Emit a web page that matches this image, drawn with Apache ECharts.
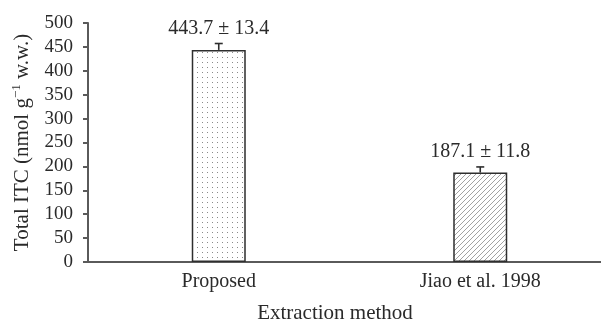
<!DOCTYPE html>
<html>
<head>
<meta charset="utf-8">
<script src="https://cdn.jsdelivr.net/npm/echarts@6/dist/echarts.min.js"></script>
<style>
  html, body { margin: 0; padding: 0; background: #fff; }
  #chart { width: 601px; height: 321px; }
</style>
</head>
<body>
<div id="chart"></div>
<script>
// Total ITC by extraction method (mean ± SD)
const categories = ['Proposed', 'Jiao et al. 1998'];
const means = [443.7, 187.1];
const errors = [13.4, 11.8];
const yMin = 0, yMax = 500, yStep = 50;

const FONT = 'Liberation Serif';
const INK = '#2a2a2a';
const AXIS = '#5a5a5a';

// Fill patterns: fine dot grid and diagonal hatching
function dotPattern() {
  const c = document.createElement('canvas');
  c.width = 5; c.height = 5;
  const g = c.getContext('2d');
  g.fillStyle = '#fff'; g.fillRect(0, 0, 5, 5);
  g.fillStyle = '#8a8a8a'; g.fillRect(2, 2, 1, 1);
  return c;
}
function hatchPattern() {
  const s = 5;
  const c = document.createElement('canvas');
  c.width = s; c.height = s;
  const g = c.getContext('2d');
  g.fillStyle = '#fff'; g.fillRect(0, 0, s, s);
  g.strokeStyle = '#7a7a7a'; g.lineWidth = 0.7;
  g.beginPath();
  g.moveTo(-1, s + 1); g.lineTo(s + 1, -1);
  g.moveTo(-1, 1); g.lineTo(1, -1);
  g.moveTo(s - 1, s + 1); g.lineTo(s + 1, s - 1);
  g.stroke();
  return c;
}
const fills = [dotPattern(), hatchPattern()];

const chart = echarts.init(document.getElementById('chart'), null, { renderer: 'canvas' });

chart.setOption({
  animation: false,
  backgroundColor: '#fff',
  grid: { left: 88, right: -10, top: 23, bottom: 59, outerBoundsMode: 'none', containLabel: false },
  xAxis: {
    type: 'category',
    data: categories,
    axisLine: { lineStyle: { color: AXIS, width: 2 } },
    axisTick: { show: false },
    axisLabel: { color: INK, fontFamily: FONT, fontSize: 20, margin: 10 },
    name: 'Extraction method',
    nameLocation: 'middle',
    nameGap: 41,
    nameTextStyle: { color: INK, fontFamily: FONT, fontSize: 21, padding: [0, 29, 0, 0] }
  },
  yAxis: {
    type: 'value',
    min: yMin, max: yMax, interval: yStep,
    splitLine: { show: false },
    axisLine: { show: true, lineStyle: { color: AXIS, width: 2 } },
    axisTick: { show: true, length: 5, lineStyle: { color: AXIS, width: 2 } },
    axisLabel: { color: INK, fontFamily: FONT, fontSize: 19, margin: 15 },
    name: '{a|Total ITC (nmol g}{sup|\u22121}{a| w.w.)}',
    nameLocation: 'middle',
    nameRotate: 90,
    nameGap: 54,
    nameTextStyle: {
      color: INK, fontFamily: FONT, fontSize: 21,
      rich: {
        a: { color: INK, fontFamily: FONT, fontSize: 21, lineHeight: 24 },
        sup: { color: INK, fontFamily: FONT, fontSize: 13, verticalAlign: 'top', lineHeight: 24, padding: [0, 0, 10, 0] }
      }
    }
  },
  series: [
    {
      type: 'bar',
      barWidth: 54,
      data: means.map((v, i) => ({
        value: v,
        itemStyle: {
          color: { image: fills[i], repeat: 'repeat' },
          borderColor: '#2e2e2e',
          borderWidth: 1.5
        }
      })),
      z: 2
    },
    {
      type: 'custom',
      data: means.map((v, i) => [i, v, errors[i]]),
      encode: { x: 0, y: 1 },
      z: 3,
      renderItem: function (params, api) {
        const i = api.value(0);
        const m = api.value(1);
        const e = api.value(2);
        const base = api.coord([i, m]);
        const top = api.coord([i, m + e]);
        const capHalf = 4;
        const stroke = { stroke: '#2e2e2e', lineWidth: 1.6 };
        return {
          type: 'group',
          children: [
            { type: 'line', shape: { x1: top[0], y1: base[1], x2: top[0], y2: top[1] }, style: stroke },
            { type: 'line', shape: { x1: top[0] - capHalf, y1: top[1], x2: top[0] + capHalf, y2: top[1] }, style: stroke },
            {
              type: 'text',
              x: top[0], y: top[1] - 5,
              style: {
                text: m.toFixed(1) + ' \u00b1 ' + e.toFixed(1),
                fill: INK, font: '20px "' + FONT + '"',
                align: 'center', verticalAlign: 'bottom'
              }
            }
          ]
        };
      }
    }
  ]
});
</script>
</body>
</html>
